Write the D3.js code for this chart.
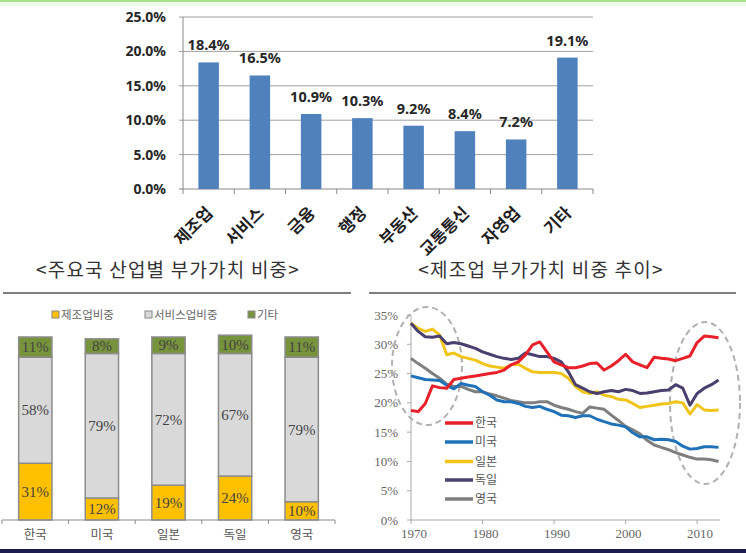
<!DOCTYPE html>
<html><head><meta charset="utf-8">
<script src="https://cdn.jsdelivr.net/npm/d3@7"></script>
<style>
html,body{margin:0;padding:0;background:#fff;}
svg{display:block;}
</style></head>
<body>
<svg id="c" width="746" height="553"></svg>
<script>
// ---------- Top chart data ----------
const topCategories = ["제조업","서비스","금융","행정","부동산","교통통신","자영업","기타"];
const topValues = [18.4,16.5,10.9,10.3,9.2,8.4,7.2,19.1];
const topTicks = [0,5,10,15,20,25];

// ---------- Panel titles ----------
const panelTitles = ["<주요국 산업별 부가가치 비중>","<제조업 부가가치 비중 추이>"];

// ---------- Stacked chart data ----------
const countries = ["한국","미국","일본","독일","영국"];
const mfgShare = [31,12,19,24,10];
const svcShare = [58,79,72,67,79];
const otherShare = [11,8,9,10,11];
const stackLegend = ["제조업비중","서비스업비중","기타"];

// ---------- Line chart data ----------
const years = [1970,1971,1972,1973,1974,1975,1976,1977,1978,1979,
               1980,1981,1982,1983,1984,1985,1986,1987,1988,1989,
               1990,1991,1992,1993,1994,1995,1996,1997,1998,1999,
               2000,2001,2002,2003,2004,2005,2006,2007,2008,2009,
               2010,2011,2012,2013];
const korea = [18.7,18.5,19.9,22.9,22.6,22.5,24.0,24.2,24.4,24.6,
               24.8,25.0,25.2,25.6,26.5,27.0,28.2,29.9,30.4,28.7,
               27.0,26.5,26.0,26.0,26.3,26.7,26.8,25.6,26.3,27.2,
               28.3,27.0,26.5,26.0,27.8,27.6,27.5,27.2,27.6,28.0,
               30.3,31.4,31.3,31.1];
const usa = [24.6,24.3,24.0,23.9,23.8,23.0,22.4,23.3,23.0,22.8,
             21.9,21.3,20.5,20.2,20.2,19.9,19.4,19.2,19.4,18.9,
             18.5,17.9,17.8,17.5,17.8,17.8,17.2,16.8,16.4,16.2,
             15.9,14.9,14.2,14.2,13.7,13.8,13.7,13.4,12.6,12.1,
             12.2,12.5,12.5,12.4];
const japan = [33.6,32.7,32.2,32.6,31.6,28.2,28.5,27.9,27.6,27.3,
               26.7,26.3,26.1,25.9,26.5,26.6,25.9,25.3,25.2,25.2,
               25.2,25.0,24.2,22.8,21.9,21.6,21.9,21.3,21.1,20.6,
               20.5,19.9,19.2,19.4,19.6,19.8,19.9,20.2,20.0,18.1,
               19.7,18.8,18.7,18.8];
const germany = [33.6,32.2,31.3,31.2,31.4,30.1,30.3,30.1,29.7,29.3,
                 28.7,28.3,27.9,27.6,27.4,27.6,28.5,28.2,27.9,27.9,
                 27.6,27.0,25.3,23.1,22.5,21.9,21.6,21.9,22.1,21.9,
                 22.3,22.1,21.6,21.7,21.9,22.1,22.2,23.1,22.5,19.6,
                 21.6,22.5,23.1,23.9];
const uk = [27.6,26.7,25.9,25.0,24.2,23.2,22.8,22.8,22.3,21.9,
            21.9,21.5,21.2,20.8,20.4,20.2,20.0,20.0,20.2,20.2,
            19.6,19.2,18.9,18.5,18.2,19.3,19.1,18.9,17.9,17.0,
            16.0,15.4,14.7,13.6,12.8,12.4,12.0,11.5,11.1,10.7,
            10.4,10.4,10.3,10.0];
const lineNames = ["한국","미국","일본","독일","영국"];
const lineColors = ["#e8202a","#1f72b8","#f0c419","#4a3f6e","#7f7f7f"];
const lineTicksY = [0,5,10,15,20,25,30,35];
const lineTicksX = [1970,1980,1990,2000,2010];

const svg = d3.select("#c");
const sans = "'Noto Sans','Noto Sans CJK KR',sans-serif";
const kr = "'Noto Sans CJK KR','Noto Sans',sans-serif";
const serif = "'Liberation Serif','Noto Sans CJK KR',serif";

// frame decorations
svg.append("rect").attr("x",0).attr("y",0).attr("width",746).attr("height",2).attr("fill","#a6e38a");
svg.append("rect").attr("x",0).attr("y",2).attr("width",746).attr("height",4).attr("fill","#eefbe8");
svg.append("rect").attr("x",0).attr("y",549).attr("width",746).attr("height",4).attr("fill","#1c1c4e");

// ================= TOP CHART =================
const tx = d3.scaleBand().domain(topCategories).range([183,593]);
const ty = d3.scaleLinear().domain([0,25]).range([189,17]);
const topG = svg.append("g");
topG.selectAll("line.grid").data(topTicks).join("line")
  .attr("x1",179).attr("x2",593).attr("y1",d=>ty(d)).attr("y2",d=>ty(d))
  .attr("stroke",d=>d===0?"#888":"#a0a0a0").attr("stroke-width",1);
topG.append("line").attr("x1",183).attr("x2",183).attr("y1",ty(25)).attr("y2",ty(0)).attr("stroke","#888");
topG.selectAll("line.xt").data(topCategories.concat(["_end"])).join("line")
  .attr("x1",(d,i)=>183+i*tx.step()).attr("x2",(d,i)=>183+i*tx.step())
  .attr("y1",ty(0)).attr("y2",ty(0)+5).attr("stroke","#888");
topG.selectAll("text.yt").data(topTicks).join("text")
  .attr("x",166).attr("y",d=>ty(d)).attr("dy","0.36em").attr("text-anchor","end")
  .attr("font-family",sans).attr("font-weight","bold").attr("font-size",14).attr("fill","#262626")
  .text(d=>d3.format(".1f")(d)+"%");
const bw = tx.bandwidth()*0.4;
topG.selectAll("rect.bar").data(topValues).join("rect")
  .attr("x",(d,i)=>tx(topCategories[i])+tx.bandwidth()/2-bw/2)
  .attr("y",d=>ty(d)).attr("width",bw).attr("height",d=>ty(0)-ty(d))
  .attr("fill","#4f81bd");
topG.selectAll("text.val").data(topValues).join("text")
  .attr("x",(d,i)=>tx(topCategories[i])+tx.bandwidth()/2)
  .attr("y",d=>ty(d)-12).attr("text-anchor","middle")
  .attr("font-family",sans).attr("font-weight","bold").attr("font-size",14.5).attr("fill","#262626")
  .text(d=>d.toFixed(1)+"%");
topG.selectAll("text.xl").data(topCategories).join("text")
  .attr("transform",d=>`translate(${tx(d)+tx.bandwidth()/2+5},${ty(0)+25}) rotate(-45)`)
  .attr("text-anchor","end")
  .attr("font-family",kr).attr("font-weight","bold").attr("font-size",16.5).attr("fill","#1e1e1e")
  .text(d=>d);

// ================= TITLES =================
svg.selectAll("text.ptitle").data(panelTitles).join("text")
  .attr("x",(d,i)=>i===0?168:541).attr("y",277).attr("text-anchor","middle")
  .attr("font-family",kr).attr("font-size",19).attr("letter-spacing",1.2).attr("fill","#333")
  .text(d=>d);
svg.append("line").attr("x1",3).attr("x2",351).attr("y1",293).attr("y2",293).attr("stroke","#555").attr("stroke-width",1.5);
svg.append("line").attr("x1",369).attr("x2",736).attr("y1",293).attr("y2",293).attr("stroke","#555").attr("stroke-width",1.5);

// ================= STACKED CHART =================
const sx = d3.scaleBand().domain(countries).range([2,335]);
const sy = d3.scaleLinear().domain([0,100]).range([520,337]);
const stackColors = ["#ffc000","#d9d9d9","#77933c"];
const stackData = countries.map((c,i)=>({c, v:[mfgShare[i],svcShare[i],otherShare[i]]}));
const sg = svg.append("g");
stackData.forEach(d=>{
  let acc = 0;
  const bwS = sx.bandwidth()*0.5;
  const x0 = sx(d.c)+sx.bandwidth()/2-bwS/2;
  d.v.forEach((v,k)=>{
    const y0 = sy(acc), y1 = sy(acc+v);
    sg.append("rect").attr("x",x0).attr("y",y1).attr("width",bwS).attr("height",y0-y1)
      .attr("fill",stackColors[k]).attr("stroke","#8c8c8c").attr("stroke-width",1.5);
    sg.append("text").attr("x",x0+bwS/2).attr("y",(y0+y1)/2).attr("dy","0.35em")
      .attr("text-anchor","middle").attr("font-family",serif).attr("font-size",15).attr("fill","#444")
      .text(v+"%");
    acc += v;
  });
});
sg.append("line").attr("x1",2).attr("x2",335).attr("y1",520).attr("y2",520).attr("stroke","#8c8c8c").attr("stroke-width",1.2);
sg.selectAll("line.st").data(d3.range(countries.length+1)).join("line")
  .attr("x1",d=>2+d*sx.step()).attr("x2",d=>2+d*sx.step()).attr("y1",520).attr("y2",524).attr("stroke","#8c8c8c");
sg.selectAll("text.sxl").data(countries).join("text")
  .attr("x",d=>sx(d)+sx.bandwidth()/2).attr("y",539).attr("text-anchor","middle")
  .attr("font-family",kr).attr("font-size",12.5).attr("fill","#555").text(d=>d);
const legX = [52,145,248];
stackLegend.forEach((t,i)=>{
  sg.append("rect").attr("x",legX[i]).attr("y",311).attr("width",7).attr("height",7)
    .attr("fill",stackColors[i]).attr("stroke","#888").attr("stroke-width",1);
  sg.append("text").attr("x",legX[i]+9).attr("y",315).attr("dy","0.36em")
    .attr("font-family",kr).attr("font-size",11.5).attr("fill","#666").text(t);
});

// ================= LINE CHART =================
const lx = d3.scaleLinear().domain([1970,2013.2]).range([411,720]);
const ly = d3.scaleLinear().domain([0,35]).range([520,315]);
const lg = svg.append("g");
lg.append("line").attr("x1",411).attr("x2",411).attr("y1",315).attr("y2",520).attr("stroke","#aaa");
lg.append("line").attr("x1",411).attr("x2",720).attr("y1",520).attr("y2",520).attr("stroke","#aaa");
lg.selectAll("line.yt").data(lineTicksY).join("line")
  .attr("x1",407).attr("x2",411).attr("y1",d=>ly(d)).attr("y2",d=>ly(d)).attr("stroke","#aaa");
lg.selectAll("line.xt").data(lineTicksX).join("line")
  .attr("x1",d=>lx(d)).attr("x2",d=>lx(d)).attr("y1",520).attr("y2",524).attr("stroke","#aaa");
lg.selectAll("text.yt").data(lineTicksY).join("text")
  .attr("x",398).attr("y",d=>ly(d)).attr("dy","0.35em").attr("text-anchor","end")
  .attr("font-family",serif).attr("font-size",13).attr("fill","#666").text(d=>d+"%");
lg.selectAll("text.xt").data(lineTicksX).join("text")
  .attr("x",d=>lx(d)+3).attr("y",538).attr("text-anchor","middle")
  .attr("font-family",serif).attr("font-size",13).attr("fill","#666").text(d=>d);

// ellipses
lg.append("ellipse").attr("cx",427).attr("cy",366).attr("rx",35).attr("ry",59)
  .attr("fill","none").attr("stroke","#b0b0b0").attr("stroke-width",2).attr("stroke-dasharray","6,4");
lg.append("ellipse").attr("cx",705).attr("cy",403).attr("rx",35).attr("ry",81)
  .attr("fill","none").attr("stroke","#b0b0b0").attr("stroke-width",2).attr("stroke-dasharray","6,4");

const series = [korea,usa,japan,germany,uk];
const lineGen = d3.line().x((d,i)=>lx(years[i])).y(d=>ly(d));
[4,1,2,3,0].forEach(k=>{
  lg.append("path").attr("d",lineGen(series[k])).attr("fill","none")
    .attr("stroke",lineColors[k]).attr("stroke-width",3).attr("stroke-linejoin","round");
});
const legY = [423,442,461.5,480,499];
lineNames.forEach((n,i)=>{
  lg.append("line").attr("x1",445).attr("x2",473).attr("y1",legY[i]).attr("y2",legY[i])
    .attr("stroke",lineColors[i]).attr("stroke-width",3.5);
  lg.append("text").attr("x",475).attr("y",legY[i]).attr("dy","0.36em")
    .attr("font-family",kr).attr("font-size",12).attr("fill","#555").text(n);
});
</script>
</body></html>
